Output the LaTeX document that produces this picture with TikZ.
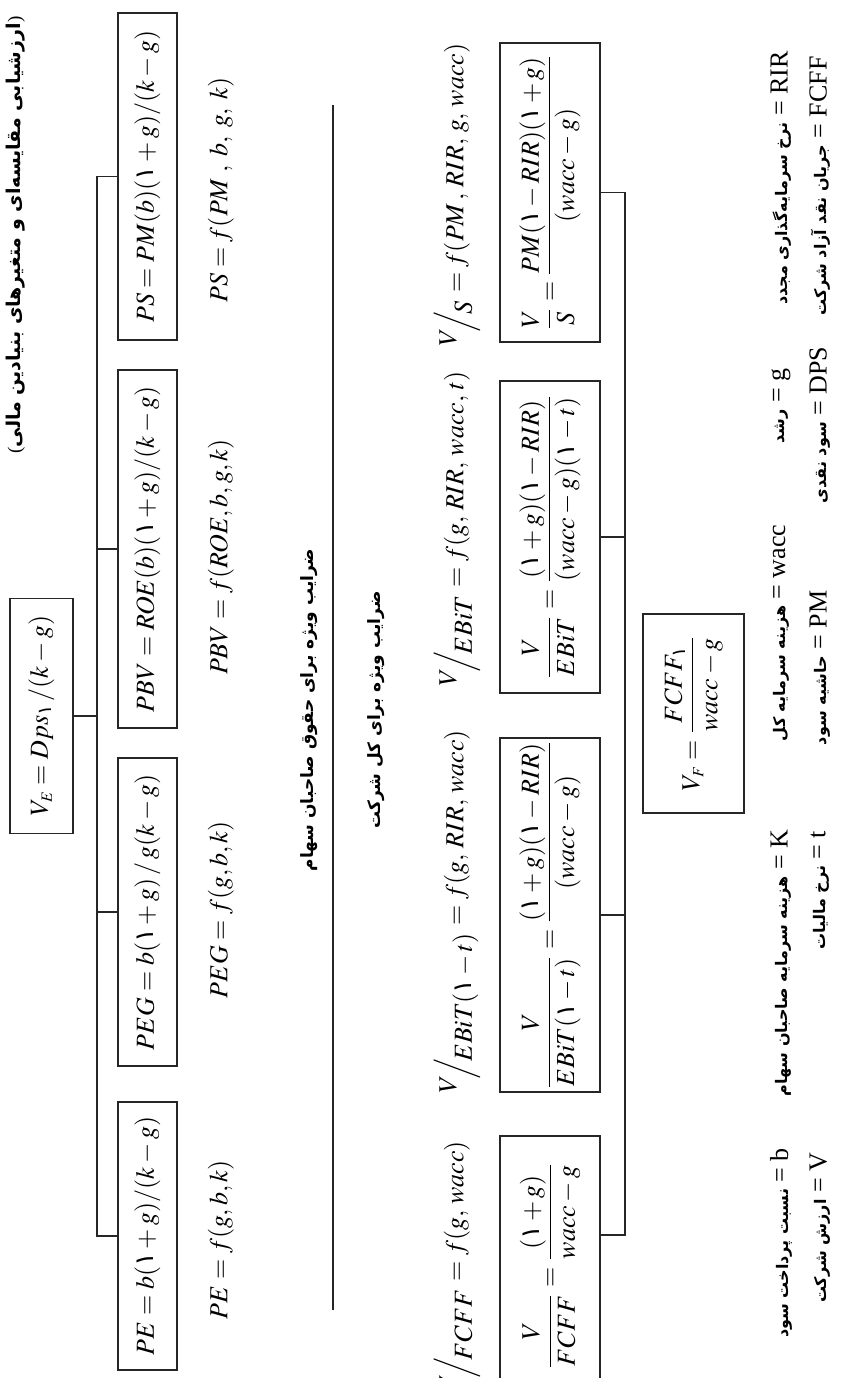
\documentclass[tikz,border=0pt]{standalone}
\usepackage{amsmath}
\usepackage{mathptmx}
\usepackage[no-math]{fontspec}
\setmainfont{Liberation Serif}
\newfontfamily\fa[Script=Arabic]{DejaVu Sans}
\TeXXeTstate=1
\usetikzlibrary{calc}

\newcommand{\one}{\text{\fa ۱}}
\newcommand{\fat}[1]{{\fa\bfseries\beginR #1\endR}}
\newcommand{\keyfa}[1]{{\fa\bfseries\fontsize{8}{10}\selectfont\beginR #1\endR}}
\newcommand{\slfrac}[2]{\left.\raisebox{0.6ex}{$#1$}\mkern-3mu\middle/\mkern-2mu\raisebox{-0.7ex}{$#2$}\right.}

\begin{document}
\begin{tikzpicture}[x=0.5pt, y=0.5pt,
  box/.style={draw=black!85, line width=0.6pt, inner sep=0pt, align=center, font=\fontsize{13}{16}\selectfont},
  upbox/.style={box, minimum height=29.5pt},
  lowbox/.style={box, minimum height=50pt},
  eq/.style={inner sep=0pt, font=\fontsize{13}{16}\selectfont},
  lbl/.style={inner sep=0pt, font=\fontsize{8.5}{10}\selectfont},
  key/.style={inner sep=0pt, font=\fontsize{13}{15}\selectfont},
  wire/.style={draw=black!85, line width=0.6pt}]
\begin{scope}[rotate=90, transform shape]
\useasboundingbox (0,0) rectangle (1378,842);

% ---------- title
\node[lbl, font=\fontsize{9.5}{11}\selectfont] (title) at (1143,826)
  {(\fat{ارزشیابی مقایسه‌ای و متغیرهای بنیادین مالی})};

% ---------- equity value and its multiples
\node[box, minimum width=117.5pt, minimum height=31.5pt] (VE) at (662,800.5) {$V_{\scriptscriptstyle E} = Dps_{\one}\,/(k-g)$};
\node[upbox, minimum width=163.5pt] (PS)  at (1201.5,694.5) {$PS = PM(b)(\one+g)/(k-g)$};
\node[upbox, minimum width=179pt]   (PBV) at (829,694.5)    {$PBV = ROE(b)(\one+g)/(k-g)$};
\node[upbox, minimum width=154pt]   (PEG) at (466,694.5)    {$PEG = b(\one+g)\,/\,g(k-g)$};
\node[upbox, minimum width=134pt]   (PE)  at (142,694.5)    {$PE = b(\one+g)/(k-g)$};

\node[eq] (fPS)  at (1188,621) {$PS = f(PM\;,\; b,\; g,\; k)$};
\node[eq] (fPBV) at (821,621)  {$PBV = f(ROE, b, g, k)$};
\node[eq] (fPEG) at (468,621)  {$PEG = f(g, b, k)$};
\node[eq] (fPE)  at (138,621)  {$PE = f(g, b, k)$};

% ---------- tree lines (top)
\coordinate (ub) at (0,745);
\draw[wire] (PS.north) -- (PS.north |- ub) -- (PE.north |- ub) -- (PE.north);
\foreach \n in {PBV, PEG} \draw[wire] (\n.north) -- (\n.north |- ub);
\draw[wire] (VE.south) -- (VE.south |- ub);

% ---------- group labels and separator
\node[lbl] (grpE) at (668,533) {\fat{ضرایب ویژه برای حقوق صاحبان سهام}};
\coordinate (sepL) at (68,509);
\coordinate (sepR) at (1273,509);
\draw[wire] (sepL) -- (sepR);
\node[lbl] (grpF) at (668,466) {\fat{ضرایب ویژه برای کل شرکت}};

% ---------- firm value multiples
\node[eq] (fVS)   at (1182,385) {$\slfrac{V}{S} = f(PM\,,\, RIR,\, g,\, wacc)$};
\node[eq] (fVEB)  at (848,385)  {$\slfrac{V}{EBiT} = f(g,\, RIR,\, wacc,\, t)$};
\node[eq] (fVEBT) at (465,385)  {$\slfrac{V}{EBiT(\one-t)} = f(g,\, RIR,\, wacc)$};
\node[eq] (fVFC)  at (110,385)  {$\slfrac{V}{FCFF} = f(g,\, wacc)$};

\node[lowbox, minimum width=149.5pt] (VS)   at (1185.5,292) {$\dfrac{V}{S} = \dfrac{PM(\one-RIR)(\one+g)}{(wacc-g)}$};
\node[lowbox, minimum width=156pt]   (VEB)  at (841,292)    {$\dfrac{V}{EBiT} = \dfrac{(\one+g)(\one-RIR)}{(wacc-g)(\one-t)}$};
\node[lowbox, minimum width=177pt]   (VEBT) at (463,292)    {$\dfrac{V}{EBiT(\one-t)} = \dfrac{(\one+g)(\one-RIR)}{(wacc-g)}$};
\node[lowbox, minimum width=130pt]   (VFC)  at (112,292)    {$\dfrac{V}{FCFF} = \dfrac{(\one+g)}{wacc-g}$};

% ---------- tree lines (bottom)
\coordinate (lb) at (0,217);
\coordinate (fcT) at ($(VFC.south)+(31,0)$);
\draw[wire] (VS.south) -- (VS.south |- lb) -- (fcT |- lb) -- (fcT);
\foreach \n in {VEB, VEBT} \draw[wire] (\n.south) -- (\n.south |- lb);

\node[lowbox, minimum width=99.5pt, minimum height=50.5pt] (VF) at (664.5,148.5) {$V_{\scriptscriptstyle F} = \dfrac{FCFF_{\one}}{wacc-g}$};

% ---------- legend
\node[key] (kRIR)  at (1200,61) {\keyfa{نرخ سرمایه‌گذاری مجدد} = RIR};
\node[key] (kg)    at (972,61)  {\keyfa{رشد} = g};
\node[key] (kwacc) at (745,61)  {\keyfa{هزینه سرمایه کل} = wacc};
\node[key] (kK)    at (415,61)  {\keyfa{هزینه سرمایه صاحبان سهام} = K};
\node[key] (kb)    at (135,61)  {\keyfa{نسبت پرداخت سود} = b};
\node[key] (kFCFF) at (1192,22) {\keyfa{جریان نقد آزاد شرکت} = FCFF};
\node[key] (kDPS)  at (953,22)  {\keyfa{سود نقدی} = DPS};
\node[key] (kPM)   at (710,22)  {\keyfa{حاشیه سود} = PM};
\node[key] (kt)    at (488,22)  {\keyfa{نرخ مالیات} = t};
\node[key] (kV)    at (150,22)  {\keyfa{ارزش شرکت} = V};
\end{scope}
\end{tikzpicture}
\end{document}
